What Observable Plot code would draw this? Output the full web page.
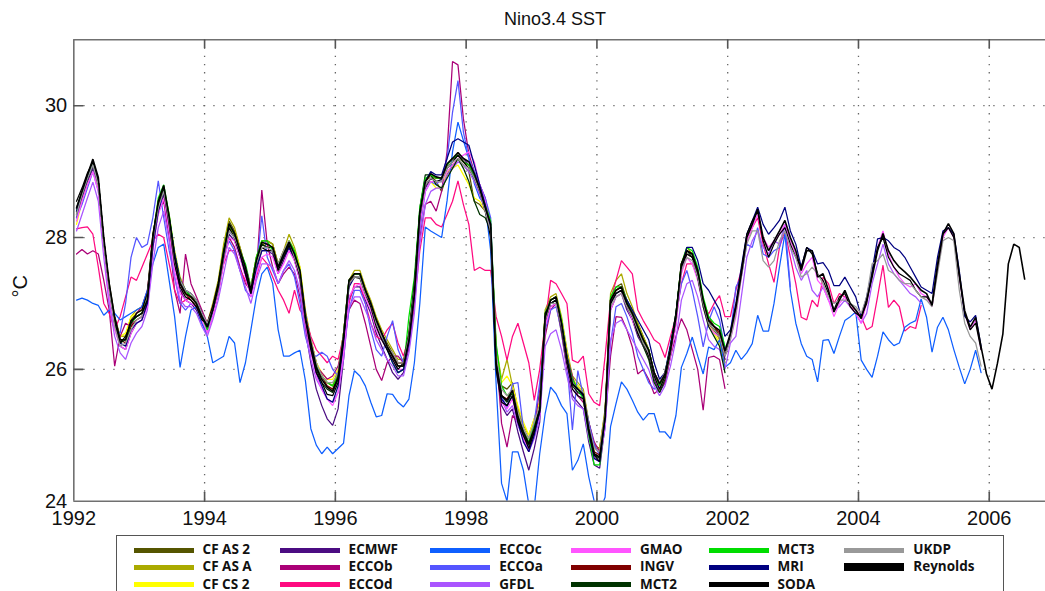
<!DOCTYPE html>
<html>
<head>
<meta charset="utf-8">
<script src="https://cdn.jsdelivr.net/npm/d3@7"></script>
<script src="https://cdn.jsdelivr.net/npm/@observablehq/plot@0.6"></script>
<style>
  html, body { margin: 0; padding: 0; background: #fff; }
  body { width: 1045px; height: 591px; overflow: hidden; position: relative;
         font-family: "Liberation Sans", Arial, sans-serif; }
  #title { height: 30px; width: 1110px; text-align: center; font-size: 18px;
           line-height: 20px; padding-top: 9px; box-sizing: border-box; color: #111; }
  #chart svg { display: block; }
  #legend { position: absolute; left: 116px; top: 535px; width: 888px; height: 80px;
            border: 1.5px solid #555; box-sizing: border-box; background: #fff; }
  .item { position: absolute; height: 16px; }
  .sw { position: absolute; left: 0; width: 60px; }
  .lab { position: absolute; left: 69px; top: -1px; font-family: "Open Sans", sans-serif;
         font-weight: 700; font-size: 13.5px; line-height: 17px; white-space: nowrap; color: #111; }
</style>
</head>
<body>
<div id="title">Nino3.4 SST</div>
<div id="chart"></div>
<div id="legend"></div>
<script>
// Monthly Nino3.4 SST (°C), first value = January 1992, one value per month.
const firstYear = 1992;

const cfAs2 = [
  28.30,28.60,28.90,29.05,28.85,27.95,27.30,26.80,26.50,26.50,26.75,26.85,
  26.90,27.10,27.95,28.45,28.70,28.30,27.75,27.35,27.15,27.10,27.05,26.85,
  26.70,26.95,27.30,27.80,28.25,28.10,27.85,27.55,27.25,27.70,27.95,27.95,
  27.90,27.60,27.80,27.95,27.80,27.50,26.85,26.45,26.10,25.90,25.80,25.75,
  25.95,26.55,27.35,27.45,27.45,27.20,27.00,26.75,26.55,26.40,26.25,26.10,
  26.10,26.50,27.25,28.40,28.85,28.95,28.85,28.70,28.95,29.10,29.20,29.10,
  29.00,28.55,28.50,28.40,28.15,26.30,25.75,25.70,25.80,25.40,25.10,24.95,
  25.20,25.45,26.85,27.05,27.10,26.75,26.25,25.85,25.75,25.65,25.20,24.85,
  24.80,25.35,27.05,27.25,27.30,27.05,26.90,26.70,26.50,26.30,25.95,25.75,
  25.90,26.30,26.80,27.55,27.80,27.75,27.50,27.05,26.80,26.65,26.50,26.10
];
const cfAsA = [
  28.35,28.65,28.90,29.10,28.80,27.95,27.25,26.75,26.50,26.50,26.80,26.90,
  26.95,27.15,28.05,28.55,28.75,28.35,27.80,27.40,27.20,27.15,27.05,26.85,
  26.70,27.00,27.35,27.90,28.30,28.15,27.85,27.55,27.25,27.70,27.95,27.95,
  27.90,27.60,27.80,28.05,27.85,27.55,26.90,26.45,26.10,25.90,25.80,25.75,
  25.95,26.55,27.35,27.50,27.50,27.25,27.05,26.80,26.60,26.45,26.30,26.15,
  26.15,26.55,27.25,28.35,28.85,28.95,28.90,28.90,29.10,29.20,29.25,29.15,
  29.05,28.90,28.70,28.40,28.15,26.35,25.85,26.15,25.75,25.40,25.15,25.00,
  25.25,25.50,26.90,27.10,27.15,26.80,26.30,25.90,25.80,25.70,25.20,24.80,
  24.80,25.40,27.15,27.35,27.45,27.15,26.95,26.70,26.50,26.30,25.95,25.75,
  25.95,26.35,26.85,27.60,27.85,27.75,27.45,27.00,26.70,26.60,26.45,26.15
];
const cfCs2 = [
  28.20,28.55,28.80,29.00,28.75,27.90,27.20,26.70,26.50,26.55,26.80,26.85,
  26.90,27.10,27.90,28.40,28.65,28.25,27.70,27.30,27.15,27.10,27.00,26.80,
  26.65,26.95,27.30,27.80,28.15,28.05,27.80,27.55,27.25,27.65,27.90,27.90,
  27.85,27.55,27.75,27.95,27.80,27.55,26.85,26.45,26.10,25.95,25.85,25.85,
  26.00,26.55,27.30,27.40,27.40,27.15,26.95,26.70,26.50,26.35,26.20,26.05,
  26.05,26.45,27.15,28.25,28.80,28.85,28.75,28.75,29.00,29.05,29.10,28.95,
  28.80,28.60,28.55,28.40,28.15,26.30,25.80,25.90,25.75,25.45,25.20,25.00,
  25.25,25.50,26.80,27.00,27.05,26.75,26.25,25.85,25.75,25.65,25.15,24.80,
  24.75,25.35,27.00,27.20,27.25,27.00,26.85,26.60,26.40,26.20,25.85,25.70,
  25.90,26.25,26.75,27.55,27.75,27.70,27.45,27.00,26.70,26.55,26.40,26.05
];
const ecmwf = [
  28.35,28.60,28.85,29.05,28.80,27.90,27.20,26.65,26.35,26.30,26.55,26.70,
  26.75,27.00,27.85,28.40,28.65,28.20,27.60,27.20,27.05,27.00,26.90,26.70,
  26.55,26.80,27.15,27.65,28.05,27.95,27.70,27.45,27.15,27.50,27.80,27.80,
  27.75,27.45,27.65,27.85,27.65,27.35,26.60,26.10,25.70,25.45,25.25,25.15,
  25.40,26.15,27.05,27.25,27.25,27.05,26.85,26.55,26.35,26.15,25.95,25.85,
  25.95,26.35,27.05,28.20,28.75,28.90,28.85,28.85,29.05,29.15,29.25,29.20,
  29.10,28.95,28.75,28.45,28.15,26.00,25.45,25.30,25.40,25.05,24.75,24.47,
  24.80,25.20,26.70,26.95,27.00,26.55,26.00,25.60,25.50,25.40,24.90,24.55,
  24.50,25.15,26.90,27.10,27.15,26.90,26.75,26.50,26.35,26.20,25.85,25.65,
  25.80,26.20,26.70,27.50,27.75,27.70,27.45,27.00,26.70,26.60,26.50,26.15
];
const eccoB = [
  27.75,27.82,27.75,27.80,27.75,27.35,26.90,26.05,26.50,26.70,26.65,26.85,
  26.95,27.20,27.90,28.40,28.55,28.00,27.20,26.85,27.75,27.30,27.10,26.90,
  26.70,26.85,27.15,27.70,28.00,27.85,27.55,27.30,27.20,27.45,28.72,27.90,
  27.55,27.30,27.45,27.55,27.45,27.10,26.65,26.30,26.05,25.95,25.85,25.90,
  26.05,26.40,26.90,27.05,27.00,26.70,26.35,26.00,25.83,26.10,26.20,26.20,
  26.10,26.30,27.00,28.00,28.50,28.55,28.40,28.70,29.30,30.67,30.62,29.80,
  29.27,29.00,28.80,28.60,28.20,26.30,25.18,24.82,25.30,25.20,24.95,24.75,
  25.10,25.70,26.50,26.90,27.00,26.70,26.20,25.90,25.60,25.50,25.20,24.90,
  24.75,25.20,26.20,26.80,26.79,26.60,26.34,25.93,26.00,25.85,25.63,25.70,
  25.80,26.20,26.50,26.77,26.60,26.30,26.00,25.38,26.18,26.20,26.15,25.71
];
const eccoD = [
  28.13,28.15,28.16,28.05,27.55,27.00,26.85,26.60,26.80,27.10,27.40,27.35,
  27.55,27.75,27.95,28.05,28.00,27.60,27.20,27.00,27.05,27.10,27.00,26.80,
  26.70,26.95,27.20,27.60,27.80,27.80,27.50,27.35,27.15,27.40,27.70,27.60,
  27.40,27.20,27.05,26.85,27.20,26.90,26.80,26.50,26.30,26.20,26.10,26.20,
  26.15,26.50,27.00,27.30,27.30,27.00,26.70,26.50,26.45,26.60,26.70,26.40,
  26.20,26.50,27.00,27.80,28.30,28.30,28.20,28.16,28.35,28.55,28.86,28.50,
  28.20,27.50,27.55,27.50,27.50,26.80,26.50,26.14,26.50,26.70,26.40,26.10,
  25.53,26.00,26.70,27.35,27.30,27.15,27.00,26.14,26.10,26.20,25.63,25.50,
  25.45,26.20,27.05,27.35,27.65,27.55,27.45,26.90,26.74,26.60,26.45,26.39,
  26.18,26.50,26.80,27.30,27.60,27.60,27.40,27.00,26.84,27.00,27.12,26.80,
  26.80,27.20,27.50,27.95,28.15,28.30,27.90,27.60,27.32,27.85,28.10,27.70,
  27.30,26.79,26.75,27.05,26.95,27.40,27.30,27.00,27.15,27.10,26.95,26.90,
  26.80,26.60,26.65,27.10,27.58,26.94,27.05,26.95,26.58,26.65,26.62,26.97
];
const eccoC = [
  27.05,27.08,27.05,27.00,26.97,26.82,26.90,26.85,26.75,26.80,26.85,26.90,
  26.95,27.20,27.60,27.85,27.90,27.35,26.80,26.03,26.50,26.90,26.95,26.70,
  26.50,26.10,26.15,26.20,26.50,26.40,25.80,26.10,26.60,27.10,27.45,27.55,
  27.30,26.60,26.20,26.20,26.25,26.29,25.83,25.10,24.85,24.72,24.82,24.72,
  24.80,24.88,25.60,25.98,25.90,25.75,25.50,25.28,25.30,25.63,25.62,25.50,
  25.43,25.55,26.10,27.00,28.16,28.10,28.05,28.00,28.56,29.30,29.75,29.47,
  29.20,28.82,28.60,28.50,27.80,25.78,24.27,24.00,24.75,24.75,24.47,23.95,
  23.90,24.72,25.33,25.73,25.63,25.45,25.33,24.47,24.62,24.87,24.37,24.00,
  23.85,24.06,25.13,25.48,25.81,25.70,25.53,25.35,25.23,25.33,25.33,25.05,
  25.05,24.95,25.30,26.03,26.24,26.49,26.20,25.93,26.34,26.30,26.45,26.03,
  26.10,26.29,26.15,26.25,26.39,26.82,26.58,26.58,27.00,27.55,28.06,27.20,
  26.70,26.39,26.20,26.15,25.81,26.44,26.45,26.24,26.50,26.74,26.80,26.87,
  26.14,26.00,25.88,26.20,26.57,26.45,26.36,26.40,26.64,26.70,26.74,27.07,
  26.79,26.26,26.64,26.79,26.60,26.30,26.03,25.78,26.00,26.29,25.95
];
const eccoA = [
  28.30,28.50,28.75,29.00,28.70,27.90,27.00,26.60,26.55,27.00,27.70,28.00,
  27.85,27.90,28.30,28.86,28.30,27.80,27.40,27.00,26.90,27.00,26.95,26.80,
  26.60,26.85,27.20,27.70,27.95,27.80,27.50,27.20,27.10,27.50,28.33,27.70,
  27.50,27.30,27.50,27.60,27.40,27.00,26.50,26.20,26.20,26.26,26.20,26.00,
  25.90,26.30,26.90,27.20,27.20,27.00,26.60,26.30,26.20,26.50,26.74,26.30,
  26.10,26.40,27.20,28.10,28.70,28.85,28.80,28.90,29.20,29.90,30.38,29.60,
  29.20,29.00,28.80,28.60,28.30,26.20,25.60,25.40,25.78,25.80,25.10,24.80,
  25.20,25.80,26.60,26.90,26.95,26.60,26.10,25.08,25.98,25.60,25.20,24.85,
  24.70,25.20,26.40,26.95,27.00,26.80,26.55,26.20,26.00,25.80,25.70,25.75,
  25.95,26.40,26.80,27.30,27.50,27.20,26.80,26.34,26.73,26.95,26.75,26.30,
  26.50,27.25,27.40,27.90,27.85,28.15,27.75,27.70,27.80,27.85,28.20,27.25
];
const gfdl = [
  28.10,28.35,28.60,28.84,28.55,27.70,27.00,26.50,26.25,26.15,26.40,26.55,
  26.65,26.90,27.60,28.15,28.40,27.95,27.40,27.05,26.95,26.95,26.85,26.65,
  26.50,26.75,27.05,27.45,27.85,27.75,27.50,27.25,27.00,27.35,27.60,27.60,
  27.55,27.30,27.50,27.65,27.50,27.20,26.55,26.15,25.85,25.70,25.55,25.50,
  25.65,26.15,26.95,27.10,27.10,26.90,26.70,26.45,26.30,26.15,26.05,25.90,
  25.90,26.25,26.85,27.90,28.50,28.70,28.75,28.75,28.95,29.05,29.15,29.10,
  29.00,28.85,28.65,28.40,28.10,26.20,25.55,25.35,25.45,25.15,24.95,24.75,
  24.95,25.25,26.35,26.54,26.60,26.30,25.90,25.55,25.45,25.40,24.95,24.70,
  24.65,25.10,26.45,26.70,26.75,26.60,26.45,26.30,26.15,26.00,25.75,25.60,
  25.75,26.05,26.45,27.05,27.30,27.35,27.10,26.75,26.45,26.35,26.30,26.00,
  26.40,26.50,27.10,27.70,27.95,28.10,27.85,27.75,27.95,27.90,28.20,27.85,
  27.55,27.35,27.50,27.20,27.10,27.25,27.05,26.90,26.95,27.05,26.95,26.85,
  26.70,26.85,27.30,27.60,27.90,27.60,27.45,27.35,27.25,27.15,27.10,27.00
];
const gmao = [
  28.25,28.55,28.80,29.00,28.70,27.85,27.10,26.60,26.35,26.30,26.55,26.70,
  26.75,26.95,27.80,28.35,28.60,28.10,27.50,27.15,27.05,27.00,26.95,26.75,
  26.55,26.80,27.15,27.60,28.00,27.95,27.70,27.40,27.10,27.45,27.70,27.75,
  27.70,27.45,27.60,27.80,27.65,27.35,26.70,26.25,25.90,25.70,25.55,25.45,
  25.65,26.25,27.10,27.25,27.30,27.10,26.90,26.60,26.45,26.30,26.15,26.00,
  26.00,26.40,27.10,28.20,28.70,28.85,28.85,28.85,29.00,29.10,29.20,29.25,
  29.30,29.15,28.80,28.55,28.20,26.20,25.50,25.40,25.55,25.20,24.95,24.80,
  25.05,25.30,26.65,26.95,27.00,26.60,26.05,25.70,25.60,25.55,25.00,24.65,
  24.60,25.20,26.90,27.10,27.15,26.95,26.75,26.55,26.35,26.20,25.90,25.70,
  25.85,26.20,26.65,27.45,27.70,27.60,27.35,26.95,26.65,26.55,26.50,26.20,
  26.45,26.80,27.40,27.95,28.15,28.35,28.00,27.85,27.95,28.05,28.20,27.95,
  27.75,27.45,27.60,27.70,27.35,27.25,27.05,26.80,27.00,27.10,26.95,26.85,
  26.70,27.00,27.45,27.85,28.10,27.75,27.55,27.40,27.30,27.25,27.30,27.15,
  27.10,26.95,27.50,28.00,28.15,28.00,27.40,26.85,26.60,26.75,26.30
];
const ingv = [
  28.40,28.65,28.90,29.10,28.85,27.95,27.25,26.75,26.45,26.40,26.65,26.75,
  26.80,27.05,27.95,28.50,28.75,28.30,27.70,27.30,27.15,27.05,26.95,26.80,
  26.65,26.90,27.25,27.75,28.20,28.05,27.80,27.50,27.20,27.65,27.90,27.85,
  27.85,27.55,27.75,27.90,27.70,27.45,26.80,26.40,26.05,25.90,25.75,25.70,
  25.90,26.50,27.30,27.45,27.45,27.20,27.00,26.70,26.50,26.35,26.20,26.10,
  26.10,26.45,27.20,28.35,28.85,28.95,28.90,28.90,29.10,29.20,29.25,29.15,
  29.10,28.95,28.70,28.45,28.15,26.15,25.60,25.55,25.70,25.30,25.05,24.90,
  25.15,25.40,26.80,27.05,27.10,26.70,26.15,25.80,25.70,25.60,25.10,24.75,
  24.70,25.30,27.05,27.20,27.25,27.00,26.85,26.65,26.45,26.30,25.95,25.80,
  25.95,26.30,26.80,27.60,27.80,27.75,27.50,27.05,26.75,26.65,26.55,26.25
];
const mct2 = [
  28.45,28.70,28.95,29.15,28.85,27.95,27.25,26.70,26.40,26.45,26.70,26.80,
  26.85,27.10,27.95,28.50,28.75,28.30,27.75,27.35,27.20,27.10,27.00,26.80,
  26.65,26.95,27.30,27.80,28.20,28.05,27.80,27.50,27.20,27.60,27.90,27.85,
  27.85,27.55,27.75,27.90,27.75,27.45,26.80,26.35,26.00,25.80,25.70,25.65,
  25.85,26.50,27.35,27.45,27.45,27.20,27.00,26.75,26.55,26.35,26.20,26.05,
  26.05,26.50,27.25,28.45,28.95,28.95,28.80,28.75,28.90,29.05,29.20,29.05,
  28.85,28.55,28.35,28.30,28.10,26.15,25.60,25.50,25.65,25.25,25.00,24.85,
  25.05,25.35,26.75,27.00,27.05,26.65,26.10,25.75,25.65,25.60,25.05,24.70,
  24.65,25.25,27.00,27.15,27.20,26.95,26.80,26.55,26.35,26.15,25.80,25.65,
  25.85,26.25,26.80,27.60,27.80,27.70,27.40,26.95,26.65,26.50,26.35,25.95
];
const mct3 = [
  28.40,28.65,28.90,29.10,28.85,27.95,27.25,26.75,26.45,26.45,26.70,26.80,
  26.85,27.10,28.00,28.60,28.80,28.35,27.75,27.35,27.20,27.10,27.00,26.80,
  26.60,26.90,27.25,27.80,28.20,28.05,27.80,27.60,27.25,27.70,27.95,27.95,
  27.80,27.60,27.75,27.95,27.80,27.50,26.80,26.40,26.05,25.90,25.80,25.75,
  25.90,26.55,27.35,27.45,27.45,27.20,27.00,26.75,26.50,26.30,26.10,25.95,
  26.00,26.80,27.40,28.45,28.90,28.95,28.90,28.90,29.10,29.20,29.25,29.15,
  29.10,28.95,28.75,28.50,28.25,26.40,25.75,25.60,25.65,25.30,25.05,24.90,
  25.15,25.40,26.85,27.05,27.10,26.75,26.20,25.85,25.70,25.55,25.00,24.55,
  24.55,25.30,27.10,27.25,27.25,27.05,26.85,26.65,26.45,26.30,25.95,25.75,
  25.95,26.35,26.85,27.60,27.85,27.80,27.55,27.10,26.80,26.70,26.65,26.35
];
const mri = [
  28.40,28.65,28.90,29.10,28.85,27.95,27.25,26.70,26.40,26.35,26.60,26.70,
  26.75,27.00,27.85,28.40,28.70,28.30,27.75,27.35,27.20,27.15,27.05,26.85,
  26.65,26.90,27.20,27.70,28.10,28.00,27.75,27.45,27.15,27.55,27.80,27.80,
  27.80,27.55,27.70,27.85,27.70,27.45,26.85,26.35,25.95,25.75,25.55,25.50,
  25.75,26.40,27.25,27.40,27.40,27.20,27.00,26.70,26.50,26.30,26.10,25.95,
  26.00,26.40,27.10,28.30,28.85,29.00,28.95,28.95,29.20,29.45,29.50,29.45,
  29.40,29.10,28.80,28.50,28.15,26.10,25.55,25.45,25.60,25.20,24.90,24.75,
  25.00,25.35,26.80,27.00,27.05,26.70,26.20,25.80,25.70,25.60,25.05,24.65,
  24.60,25.25,27.00,27.15,27.20,27.05,26.90,26.75,26.60,26.45,26.10,25.85,
  25.95,26.35,26.85,27.55,27.85,27.85,27.65,27.30,27.20,27.05,26.90,26.50,
  26.60,27.00,27.55,28.05,28.25,28.46,28.20,28.05,28.15,28.26,28.46,28.10,
  27.90,27.55,27.85,27.80,27.60,27.62,27.50,27.27,27.27,27.40,27.25,27.10,
  26.80,27.10,27.50,27.98,28.00,27.95,27.85,27.80,27.70,27.55,27.40,27.25,
  27.20,27.15,27.70,28.10,28.15,28.05,27.50,26.80,26.72,26.82,26.35
];
const soda = [
  28.55,28.75,28.98,29.15,28.85,27.95,27.25,26.70,26.40,26.50,26.70,26.85,
  26.90,27.15,28.05,28.50,28.70,28.20,27.60,27.25,27.10,27.05,26.95,26.75,
  26.70,26.95,27.30,27.80,28.15,28.00,27.75,27.45,27.15,27.60,27.85,27.80,
  27.80,27.50,27.70,27.88,27.70,27.40,26.75,26.30,25.95,25.80,25.62,25.60,
  25.80,26.45,27.30,27.40,27.38,27.15,26.95,26.65,26.45,26.30,26.15,26.00,
  26.10,26.55,27.30,28.40,28.80,28.90,28.85,28.88,29.05,29.15,29.25,29.15,
  29.05,28.90,28.70,28.40,28.00,26.00,25.50,25.45,25.60,25.20,25.00,24.80,
  25.05,25.45,26.85,27.00,27.05,26.60,26.10,25.70,25.60,25.55,25.05,24.70,
  24.60,25.35,27.00,27.15,27.20,26.95,26.80,26.55,26.40,26.20,25.90,25.70,
  25.90,26.35,26.85,27.55,27.75,27.70,27.40,27.00,26.70,26.60,26.50,26.20,
  26.50,26.95,27.50,28.05,28.25,28.40,27.95,27.70,27.90,28.05,28.15,27.90,
  27.70,27.55,27.85,27.75,27.45,27.35,27.15,26.90,27.10,27.15,26.95,26.85,
  26.80,27.00,27.45,27.85,28.00,27.70,27.55,27.45,27.40,27.35,27.20,27.10,
  27.10,27.00,27.60,28.05,28.15,28.00,27.40,26.85,26.60,26.70,26.30
];
const ukdp = [
  28.35,28.65,28.90,29.10,28.80,27.90,27.20,26.65,26.35,26.40,26.60,26.75,
  26.80,27.10,27.95,28.45,28.70,28.25,27.65,27.35,27.20,27.15,27.05,26.85,
  26.70,26.90,27.20,27.70,28.10,28.00,27.80,27.55,27.25,27.60,27.85,27.85,
  27.80,27.60,27.80,27.95,27.70,27.45,26.80,26.45,26.10,25.90,25.80,25.80,
  25.95,26.55,27.30,27.40,27.40,27.15,27.00,26.70,26.50,26.35,26.25,26.10,
  26.10,26.50,27.20,28.30,28.80,28.90,28.85,28.85,29.05,29.15,29.20,29.10,
  29.05,28.90,28.70,28.40,28.10,26.20,25.70,25.60,25.70,25.35,25.10,24.95,
  25.20,25.45,26.75,27.00,27.00,26.65,26.15,25.80,25.70,25.65,25.15,24.80,
  24.75,25.35,26.95,27.10,27.15,26.95,26.80,26.60,26.40,26.25,25.95,25.80,
  25.95,26.30,26.75,27.50,27.70,27.65,27.40,27.00,26.70,26.60,26.50,26.20,
  26.45,26.85,27.40,27.90,28.10,28.10,27.65,27.55,27.65,27.95,28.10,27.85,
  27.70,27.40,27.45,27.55,27.45,27.30,27.10,27.00,27.05,27.05,27.00,26.95,
  26.85,27.10,27.60,27.65,27.75,27.50,27.45,27.35,27.30,27.30,27.20,27.10,
  27.05,26.95,27.45,27.95,28.00,27.95,27.20,26.70,26.50,26.40,26.05
];
const reynolds = [
  28.45,28.70,28.95,29.19,28.91,28.00,27.30,26.79,26.45,26.45,26.74,26.80,
  26.85,27.05,28.00,28.55,28.79,28.31,27.70,27.30,27.15,27.10,27.00,26.80,
  26.64,26.90,27.25,27.75,28.21,28.06,27.80,27.55,27.20,27.65,27.93,27.90,
  27.85,27.55,27.75,27.93,27.75,27.50,26.79,26.40,26.03,25.85,25.73,25.67,
  25.88,26.50,27.35,27.45,27.45,27.20,27.00,26.75,26.55,26.35,26.20,26.05,
  26.05,26.44,27.15,28.36,28.85,28.97,28.92,28.90,29.12,29.20,29.29,29.20,
  29.15,28.97,28.74,28.46,28.20,26.10,25.60,25.53,25.68,25.28,25.05,24.87,
  25.10,25.38,26.79,27.05,27.10,26.70,26.15,25.78,25.70,25.62,25.10,24.72,
  24.67,25.28,27.05,27.20,27.25,27.00,26.85,26.64,26.45,26.29,25.95,25.78,
  25.93,26.30,26.79,27.60,27.80,27.75,27.50,27.05,26.74,26.65,26.59,26.28,
  26.55,26.94,27.45,28.00,28.20,28.43,28.00,27.80,27.95,28.10,28.26,28.00,
  27.80,27.50,27.80,27.80,27.40,27.45,27.20,26.87,27.05,27.20,27.00,26.90,
  26.77,27.05,27.40,27.80,28.06,27.80,27.65,27.55,27.48,27.40,27.30,27.20,
  27.15,26.97,27.55,28.06,28.21,28.06,27.45,26.89,26.64,26.79,26.34,25.93,
  25.70,26.09,26.54,27.60,27.90,27.85,27.37
];

const xTicks = [1992, 1994, 1996, 1998, 2000, 2002, 2004, 2006];
const yTicks = [24, 26, 28, 30];

// Series in drawing order (legend is filled column by column in the same order).
const series = [
  {name: "CF AS 2",  values: cfAs2,    color: "#555500"},
  {name: "CF AS A",  values: cfAsA,    color: "#aaaa00"},
  {name: "CF CS 2",  values: cfCs2,    color: "#ffff00"},
  {name: "ECMWF",    values: ecmwf,    color: "#4b0c82"},
  {name: "ECCOb",    values: eccoB,    color: "#aa0077"},
  {name: "ECCOd",    values: eccoD,    color: "#ff0a80"},
  {name: "ECCOc",    values: eccoC,    color: "#0f5fff"},
  {name: "ECCOa",    values: eccoA,    color: "#5555ff"},
  {name: "GFDL",     values: gfdl,     color: "#aa55ff"},
  {name: "GMAO",     values: gmao,     color: "#ff55ff"},
  {name: "INGV",     values: ingv,     color: "#800000"},
  {name: "MCT2",     values: mct2,     color: "#003300"},
  {name: "MCT3",     values: mct3,     color: "#00dd00"},
  {name: "MRI",      values: mri,      color: "#000080"},
  {name: "SODA",     values: soda,     color: "#000000"},
  {name: "UKDP",     values: ukdp,     color: "#999999"},
  {name: "Reynolds", values: reynolds, color: "#000000", thick: true}
];

// Values sit at mid-month.
const toRows = s => s.values.map((v, i) => ({name: s.name, t: firstYear + (i + 0.5) / 12, v}));

// Short inward tick drawn as a vector shape.
const tickShape = {draw(context, l) { context.moveTo(0, 0); context.lineTo(0, -l); }};
const axisColor = "#707070";

const chart = Plot.plot({
  width: 1045,
  height: 500.7,
  marginTop: 9.3,
  marginBottom: 30,
  marginLeft: 73.3,
  marginRight: 0,
  x: {domain: [1992, 2006.86], label: null},
  y: {domain: [24, 31], label: null},
  style: {fontFamily: "'Liberation Sans', Arial, sans-serif", fontSize: "20px", color: "#111", background: "#fff"},
  marks: [
    Plot.gridX(xTicks.slice(1), {stroke: "#666", strokeOpacity: 1, strokeWidth: 1.3, strokeDasharray: "1.3,6.9"}),
    Plot.gridY(yTicks.slice(1), {stroke: "#666", strokeOpacity: 1, strokeWidth: 1.3, strokeDasharray: "1.3,8.7"}),
    ...series.map(s => Plot.line(toRows(s), {
      x: "t", y: "v", stroke: s.color,
      strokeWidth: s.thick ? 1.6 : 1.25,
      strokeLinejoin: "miter", clip: true
    })),
    Plot.ruleX([1992], {stroke: axisColor, strokeWidth: 1.6}),
    Plot.ruleY([24, 31], {stroke: axisColor, strokeWidth: 1.6}),
    Plot.vector(xTicks.slice(1), {x: d => d, frameAnchor: "bottom", length: 9, rotate: 0,
      anchor: "start", shape: tickShape, stroke: "#555", strokeWidth: 1.6}),
    Plot.vector(xTicks.slice(1), {x: d => d, frameAnchor: "top", length: 8, rotate: 180,
      anchor: "start", shape: tickShape, stroke: "#555", strokeWidth: 1.6}),
    Plot.vector(yTicks.slice(1), {y: d => d, frameAnchor: "left", length: 9, rotate: 90,
      anchor: "start", shape: tickShape, stroke: "#555", strokeWidth: 1.6}),
    Plot.axisX(xTicks, {tickSize: 0, tickPadding: 9.5, tickFormat: d => String(d), fontSize: 20, label: null}),
    Plot.axisY(yTicks, {tickSize: 0, tickPadding: 6.6, tickFormat: d => String(d), fontSize: 20, label: null}),
    Plot.text(["°C"], {frameAnchor: "left", dx: -53, dy: 27, rotate: -90, fontSize: 20, fill: "#111"})
  ]
});
document.getElementById("chart").appendChild(chart);

// Legend: three rows, filled column by column.
const legend = document.getElementById("legend");
const colLeft = [16.6, 162.6, 313.3, 454, 591.6, 727.3];
const rowCenter = [14.3, 31.4, 48.6];
series.forEach((s, i) => {
  const col = Math.floor(i / 3), row = i % 3;
  const item = document.createElement("div");
  item.className = "item";
  item.style.left = colLeft[col] + "px";
  item.style.top = (rowCenter[row] - 8) + "px";
  const sw = document.createElement("div");
  sw.className = "sw";
  const h = s.thick ? 8 : 5.5;
  sw.style.height = h + "px";
  sw.style.top = (8 - h / 2) + "px";
  sw.style.background = s.color;
  const lab = document.createElement("div");
  lab.className = "lab";
  lab.textContent = s.name;
  item.appendChild(sw);
  item.appendChild(lab);
  legend.appendChild(item);
});
</script>
</body>
</html>
